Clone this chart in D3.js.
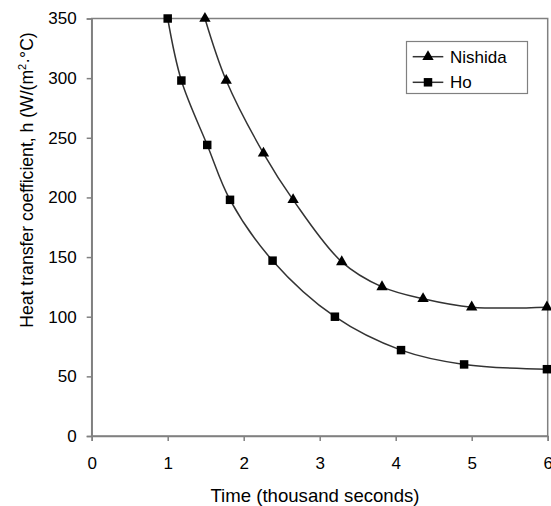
<!DOCTYPE html>
<html><head><meta charset="utf-8">
<script src="https://cdn.jsdelivr.net/npm/d3@7"></script>
<style>body{margin:0;background:#fff}text{font-family:"Liberation Sans",Arial,sans-serif;fill:#000}</style>
</head><body><svg id="c" width="551" height="506"></svg>
<script>
const hoX = [1.0, 1.18, 1.52, 1.82, 2.38, 3.20, 4.07, 4.90, 5.99];
const hoY = [350, 298, 244, 198, 147, 100, 72, 60, 56];
const niX = [1.49, 1.77, 2.26, 2.65, 3.29, 3.82, 4.36, 5.0, 5.99];
const niY = [350, 298, 237, 198, 146, 125, 115, 108, 108];
const xTicks = [0,1,2,3,4,5,6];
const yTicks = [0,50,100,150,200,250,300,350];
const seriesNames = ["Nishida","Ho"];

const svg = d3.select("#c");
const L=91.7, R=547.7, T=18.5, B=436;
const x = d3.scaleLinear().domain([0,6]).range([L,R]);
const y = d3.scaleLinear().domain([0,350]).range([B,T]);
const axisCol="#808080";
const fs=17;

// frame
svg.append("rect").attr("x",L).attr("y",T).attr("width",R-L).attr("height",B-T)
  .attr("fill","none").attr("stroke",axisCol).attr("stroke-width",1.5);

const xa = svg.append("g").attr("transform",`translate(0,${B})`)
  .call(d3.axisBottom(x).tickValues(xTicks).tickSize(5).tickPadding(16).tickFormat(d3.format("d")));
const ya = svg.append("g").attr("transform",`translate(${L},0)`)
  .call(d3.axisLeft(y).tickValues(yTicks).tickSize(5).tickPadding(10).tickFormat(d3.format("d")));
[xa,ya].forEach(a=>{
  a.selectAll("path,line").attr("stroke",axisCol).attr("stroke-width",1.5);
  a.selectAll("text").attr("font-size",fs).attr("font-family","Liberation Sans, Arial, sans-serif").attr("fill","#000");
});

const line = d3.line().x(d=>x(d[0])).y(d=>y(d[1])).curve(d3.curveCatmullRom.alpha(0.5));
const ho = hoX.map((v,i)=>[v,hoY[i]]);
const ni = niX.map((v,i)=>[v,niY[i]]);
[ho,ni].forEach(s=>svg.append("path").attr("d",line(s)).attr("fill","none").attr("stroke","#333").attr("stroke-width",1.5));

const sq = d3.symbol().type(d3.symbolSquare).size(72);
const tri = d3.symbol().type(d3.symbolTriangle).size(56);
svg.selectAll(".ho").data(ho).join("path").attr("d",sq).attr("transform",d=>`translate(${x(d[0])},${y(d[1])})`).attr("fill","#000");
svg.selectAll(".ni").data(ni).join("path").attr("d",tri).attr("transform",d=>`translate(${x(d[0])},${y(d[1])})`).attr("fill","#000");

// legend
const lg = svg.append("g");
lg.append("rect").attr("x",406.5).attr("y",41.5).attr("width",121).attr("height",52).attr("fill","#fff").attr("stroke",axisCol).attr("stroke-width",1.2);
[[56.7,tri],[82.3,sq]].forEach((e,i)=>{
  lg.append("line").attr("x1",412.7).attr("x2",443.3).attr("y1",e[0]).attr("y2",e[0]).attr("stroke","#333").attr("stroke-width",1.5);
  lg.append("path").attr("d",e[1]).attr("transform",`translate(428,${e[0]})`).attr("fill","#000");
  lg.append("text").attr("x",450).attr("y",e[0]+6).attr("font-size",fs).text(seriesNames[i]);
});

svg.append("text").attr("x",315).attr("y",502).attr("text-anchor","middle").attr("font-size",18.6).text("Time (thousand seconds)");
const yl = svg.append("text").attr("transform","translate(33,180) rotate(-90)").attr("text-anchor","middle").attr("font-size",17.6);
yl.append("tspan").text("Heat transfer coefficient, h (W/(m");
yl.append("tspan").attr("dy",-7).attr("font-size",11).text("2");
yl.append("tspan").attr("dy",7).text("·°C)");
</script></body></html>
